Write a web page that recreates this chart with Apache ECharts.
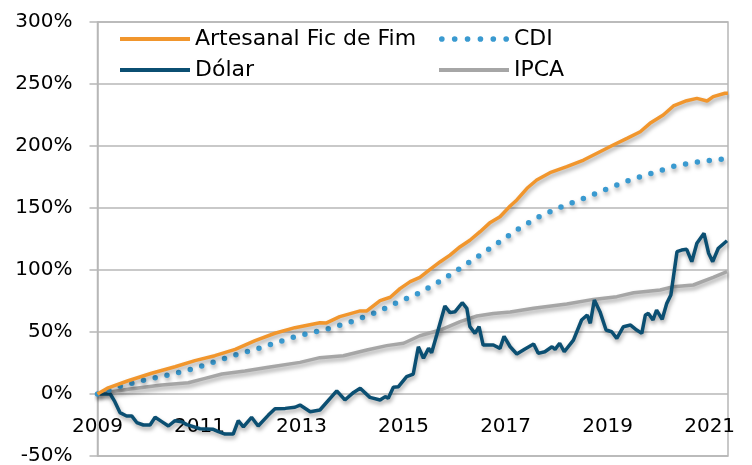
<!DOCTYPE html>
<html>
<head>
<meta charset="utf-8">
<script src="https://cdn.jsdelivr.net/npm/echarts@6/dist/echarts.min.js"></script>
<style>
  html, body { margin: 0; padding: 0; background: #fff; }
  #chart { width: 752px; height: 465px; }
</style>
</head>
<body>
<div id="chart"></div>
<script>
// Datas (année décimale) et valeurs (%)
const artesanalT = [2009.00, 2009.21, 2009.60, 2010.06, 2010.52, 2010.91, 2011.30, 2011.70, 2012.09, 2012.48, 2012.87, 2013.36, 2013.49, 2013.75, 2014.15, 2014.28, 2014.54, 2014.74, 2014.93, 2015.13, 2015.32, 2015.52, 2015.72, 2015.91, 2016.11, 2016.30, 2016.50, 2016.70, 2016.89, 2017.09, 2017.22, 2017.42, 2017.61, 2017.87, 2018.20, 2018.53, 2018.85, 2019.11, 2019.38, 2019.64, 2019.83, 2020.09, 2020.29, 2020.55, 2020.75, 2020.95, 2021.07, 2021.30, 2021.36];
const artesanalV = [0, 5, 10.7, 16.7, 22, 26.9, 30.9, 36, 43, 49, 53.5, 57.5, 57.3, 62.4, 67, 67, 75.3, 78, 85, 90.6, 94, 100.5, 106.7, 112, 118.8, 124, 130.9, 138.4, 143, 151.6, 156.5, 165.9, 172.6, 178.5, 183.3, 188.7, 195.4, 200.8, 206.2, 211.5, 218.3, 225, 232.3, 236.5, 238.4, 236.3, 239.8, 242.5, 242.5];

const cdiT = [2009.00, 2009.47, 2009.93, 2010.39, 2010.85, 2011.30, 2011.76, 2012.22, 2012.87, 2013.56, 2014.02, 2014.47, 2014.87, 2015.32, 2015.72, 2016.11, 2016.50, 2016.89, 2017.28, 2017.68, 2018.13, 2018.56, 2018.98, 2019.44, 2019.90, 2020.32, 2020.81, 2021.27, 2021.36];
const cdiV = [0, 6.5, 11.3, 15.3, 20, 26, 32.3, 37.6, 46.2, 53, 58.9, 65.9, 73.7, 81.7, 91.1, 101.4, 112, 123, 134, 143.5, 151.6, 158.3, 165.3, 172.6, 178.5, 183.9, 187.4, 189.5, 190];

const ipcaT = [2009.00, 2009.60, 2010.26, 2010.78, 2011.11, 2011.44, 2011.89, 2012.35, 2012.97, 2013.36, 2013.82, 2014.28, 2014.67, 2015.00, 2015.32, 2015.72, 2016.11, 2016.44, 2016.76, 2017.09, 2017.55, 2018.20, 2018.72, 2019.18, 2019.51, 2020.03, 2020.29, 2020.68, 2021.07, 2021.34];
const ipcaV = [0, 3.8, 7.3, 9.1, 12.6, 16.1, 18.5, 21.5, 25.5, 29.3, 30.9, 35.5, 39, 40.9, 47, 51.6, 58.3, 62.9, 65, 66.1, 69.1, 72.6, 76.3, 78.5, 81.7, 83.9, 86.5, 87.9, 94.1, 98.6];

const dolarT = [2009.00, 2009.25, 2009.34, 2009.44, 2009.57, 2009.67, 2009.77, 2009.90, 2010.03, 2010.13, 2010.26, 2010.39, 2010.52, 2010.65, 2010.75, 2011.01, 2011.27, 2011.37, 2011.50, 2011.66, 2011.76, 2011.86, 2012.02, 2012.15, 2012.35, 2012.48, 2012.68, 2012.87, 2012.97, 2013.17, 2013.36, 2013.69, 2013.85, 2014.02, 2014.15, 2014.34, 2014.54, 2014.64, 2014.70, 2014.80, 2014.90, 2015.06, 2015.19, 2015.29, 2015.39, 2015.49, 2015.55, 2015.65, 2015.81, 2015.91, 2016.01, 2016.15, 2016.24, 2016.30, 2016.40, 2016.48, 2016.56, 2016.76, 2016.89, 2016.97, 2017.09, 2017.22, 2017.38, 2017.55, 2017.64, 2017.77, 2017.91, 2017.97, 2018.06, 2018.15, 2018.33, 2018.49, 2018.60, 2018.66, 2018.74, 2018.85, 2018.97, 2019.08, 2019.18, 2019.31, 2019.45, 2019.57, 2019.67, 2019.74, 2019.80, 2019.89, 2019.96, 2020.07, 2020.16, 2020.24, 2020.36, 2020.45, 2020.55, 2020.65, 2020.75, 2020.89, 2020.98, 2021.06, 2021.17, 2021.34];
const dolarV = [0, 0, -6.2, -15, -17.7, -17.7, -23, -25, -25, -18.8, -22.3, -25.8, -21.5, -22.3, -24.7, -28, -28.5, -30.4, -32.3, -32.3, -21.5, -26.5, -18.8, -25.8, -17, -11.8, -11.6, -10.7, -8.9, -14.3, -12.9, 2.5, -4.8, 1.3, 4.6, -2.7, -4.8, -2.1, -3.5, 5.4, 5.9, 14, 16.1, 38.1, 28.8, 36.8, 33.3, 47.6, 71, 65.6, 66.4, 73.6, 69.1, 54.3, 48.9, 54.3, 39.5, 39.5, 36.8, 46.5, 38.1, 32.3, 36.3, 40.3, 32.8, 34.1, 38.1, 36, 40.9, 34.1, 43.5, 59.7, 63.7, 57, 75.8, 66.4, 51.6, 50.2, 44.9, 54.3, 55.6, 51.6, 48.9, 63.7, 65, 59.7, 67.7, 60.2, 73.1, 79.8, 114.8, 116.1, 116.7, 106.7, 121.5, 129.6, 113.5, 106.7, 117.5, 123.6];

const yearLabels = [2009, 2011, 2013, 2015, 2017, 2019, 2021];

function zip(t, v) {
  return t.map((x, i) => [x, v[i]]);
}

const gridColor = "#B7B7B7";
const font = "DejaVu Sans";
const shadow = {
  shadowColor: "rgba(0,0,0,0.35)",
  shadowBlur: 4,
  shadowOffsetX: 1,
  shadowOffsetY: 3,
};

// Icônes de légende : trait plein et pointillé
const lineIcon = "path://M0,0L68,0L68,4L0,4Z";
const dotIcon =
  "path://M0,2.75a2.75,2.75 0 1,0 5.5,0a2.75,2.75 0 1,0 -5.5,0Z" +
  "M12.5,2.75a2.75,2.75 0 1,0 5.5,0a2.75,2.75 0 1,0 -5.5,0Z" +
  "M25,2.75a2.75,2.75 0 1,0 5.5,0a2.75,2.75 0 1,0 -5.5,0Z" +
  "M37.5,2.75a2.75,2.75 0 1,0 5.5,0a2.75,2.75 0 1,0 -5.5,0Z" +
  "M50,2.75a2.75,2.75 0 1,0 5.5,0a2.75,2.75 0 1,0 -5.5,0Z" +
  "M62.5,2.75a2.75,2.75 0 1,0 5.5,0a2.75,2.75 0 1,0 -5.5,0Z";

const legendText = { fontFamily: font, fontSize: 22, color: "#000" };

const chart = echarts.init(document.getElementById("chart"));

chart.setOption({
  animation: false,
  backgroundColor: "#fff",
  grid: {
    left: 97.5,
    right: 24,
    top: 22,
    bottom: 9,
    containLabel: false,
    outerBoundsMode: "none",
    show: true,
    borderColor: gridColor,
    borderWidth: 1.5,
  },
  legend: [
    {
      data: [
        { name: "Artesanal Fic de Fim", icon: lineIcon },
        { name: "Dólar", icon: lineIcon },
      ],
      orient: "vertical",
      left: 120,
      top: 28,
      padding: 0,
      itemWidth: 70,
      itemHeight: 14,
      itemGap: 9,
      textStyle: legendText,
    },
    {
      data: [
        { name: "CDI", icon: dotIcon },
        { name: "IPCA", icon: lineIcon },
      ],
      orient: "vertical",
      left: 439,
      top: 28,
      padding: 0,
      itemWidth: 70,
      itemHeight: 14,
      itemGap: 9,
      textStyle: legendText,
    },
  ],
  xAxis: {
    type: "value",
    min: 2009,
    max: 2021.36,
    interval: 2,
    axisLine: { show: false, onZero: false },
    axisTick: { show: false },
    splitLine: { show: false },
    axisLabel: {
      margin: -39,
      fontFamily: font,
      fontSize: 20,
      color: "#000",
      formatter: function (v) {
        return yearLabels.indexOf(Math.round(v * 100) / 100) >= 0 ? String(v) : "";
      },
    },
  },
  yAxis: {
    type: "value",
    min: -50,
    max: 300,
    interval: 50,
    axisLine: { show: true, lineStyle: { color: gridColor, width: 1.5 } },
    axisTick: { show: true, length: 8, lineStyle: { color: gridColor, width: 1.5 } },
    splitLine: { lineStyle: { color: gridColor, width: 1.5 } },
    axisLabel: {
      margin: 25,
      fontFamily: font,
      fontSize: 20,
      color: "#000",
      formatter: "{value}%",
    },
  },
  series: [
    {
      name: "IPCA",
      type: "line",
      data: zip(ipcaT, ipcaV),
      symbol: "none",
      color: "#A6A6A6",
      lineStyle: Object.assign({ width: 3.5, color: "#A6A6A6" }, shadow),
    },
    {
      name: "Dólar",
      type: "line",
      data: zip(dolarT, dolarV),
      symbol: "none",
      color: "#0B4F72",
      lineStyle: Object.assign({ width: 3.5, color: "#0B4F72" }, shadow),
    },
    {
      name: "CDI",
      type: "line",
      data: zip(cdiT, cdiV),
      symbol: "none",
      color: "#3A9AD0",
      lineStyle: Object.assign(
        { width: 5.5, color: "#3A9AD0", type: [0, 12], cap: "round" },
        shadow
      ),
    },
    {
      name: "Artesanal Fic de Fim",
      type: "line",
      data: zip(artesanalT, artesanalV),
      symbol: "none",
      color: "#F1962D",
      lineStyle: Object.assign({ width: 3.5, color: "#F1962D" }, shadow),
    },
  ],
});
</script>
</body>
</html>
